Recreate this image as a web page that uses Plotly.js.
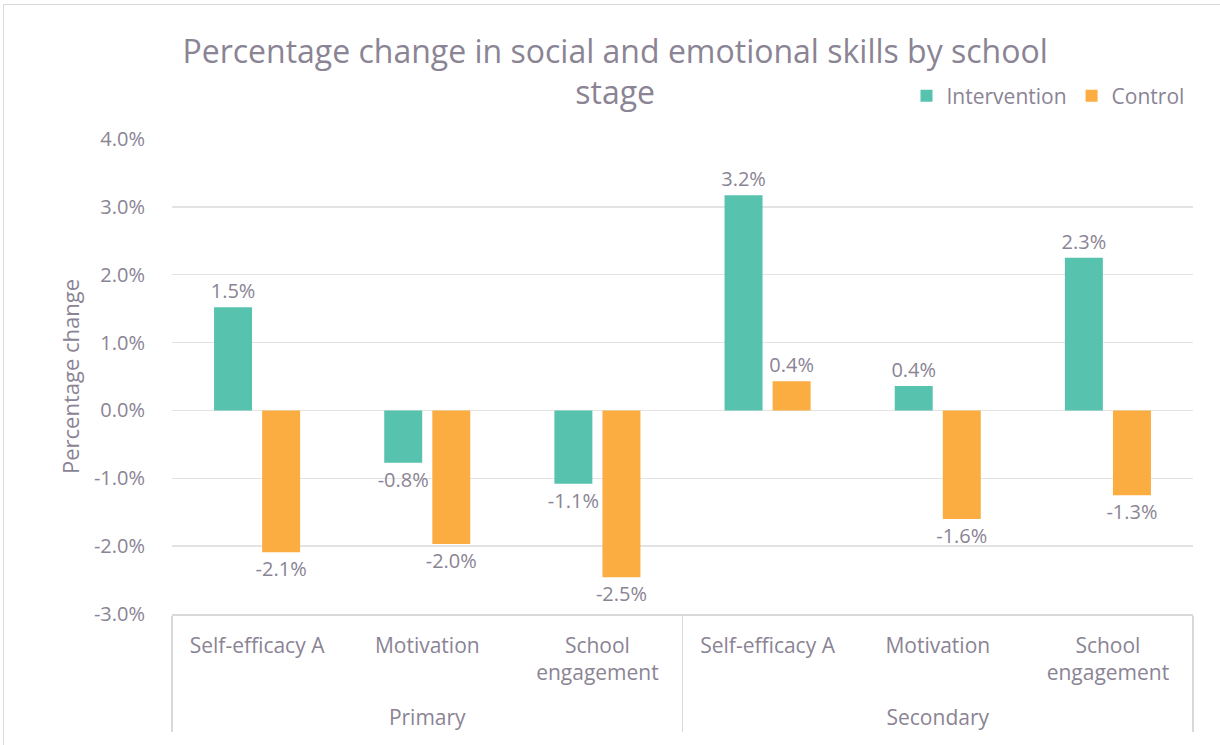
<!DOCTYPE html>
<html>
<head>
<meta charset="utf-8">
<script src="https://cdn.plot.ly/plotly-3.0.1.min.js"></script>
<style>
html,body{margin:0;padding:0;background:#fff;}
#frame{position:absolute;left:3px;top:4px;width:1240px;height:760px;border:1px solid #d9d9d9;box-sizing:border-box;}
#chart{position:absolute;left:0;top:0;width:1220px;height:745px;}
</style>
</head>
<body>
<div id="frame"></div>
<div id="chart"></div>
<script>
const stages = ["Primary","Primary","Primary","Secondary","Secondary","Secondary"];
const skills = ["Self-efficacy A","Motivation","School engagement","Self-efficacy A","Motivation","School engagement"];
const intervention = [1.52, -0.77, -1.08, 3.17, 0.36, 2.25];
const control = [-2.09, -1.97, -2.46, 0.43, -1.60, -1.25];
const yTicks = [-3,-2,-1,0,1,2,3,4];

// display labels: wrap long skill names as in the reference
const skillLabels = skills.map(s => s === "School engagement" ? "School<br>engagement<br>\u00a0" : s);

const textColor = "#8a8494";
const fontFam = "'Open Sans', 'DejaVu Sans', sans-serif";

const mk = (name, vals, color) => ({
  type: "bar",
  name: name,
  x: [stages, skillLabels],
  y: vals,
  marker: {color: color},
  texttemplate: "%{y:.1f}%",
  textposition: "outside",
  constraintext: "none",
  cliponaxis: false,
  textfont: {family: fontFam, size: 20, color: textColor},
  hoverinfo: "skip"
});

const data = [
  mk("Intervention", intervention, "#57c3af"),
  mk("Control", control, "#fbad41")
];

const layout = {
  width: 1220, height: 745,
  margin: {l: 172, r: 27, t: 139, b: 131},
  paper_bgcolor: "rgba(0,0,0,0)",
  plot_bgcolor: "#ffffff",
  font: {family: fontFam, color: textColor, size: 20},
  title: {
    text: "Percentage change in social and emotional skills by school<br>stage",
    font: {family: fontFam, size: 32, color: textColor},
    x: 0.434, xanchor: "center", xref: "paper",
    y: 0.916, yanchor: "middle", yref: "container"
  },
  barmode: "group",
  bargap: 0.435,
  bargroupgap: 0.21,
  showlegend: true,
  legend: {
    orientation: "h",
    x: 0.975, xanchor: "right", xref: "container",
    y: 0.871, yanchor: "middle", yref: "container",
    font: {family: fontFam, size: 21, color: textColor},
    itemwidth: 30,
    bgcolor: "rgba(0,0,0,0)"
  },
  xaxis: {
    type: "multicategory",
    showline: true, linecolor: "#d9d9d9", linewidth: 1.5,
    showgrid: false,
    ticks: "",
    ticklabelstandoff: 12,
    showdividers: true, dividercolor: "#d9d9d9", dividerwidth: 1.5,
    tickfont: {family: fontFam, size: 21, color: textColor},
    fixedrange: true
  },
  yaxis: {
    range: [-3, 4],
    tickvals: yTicks,
    ticktext: yTicks.map(v => v.toFixed(1) + "%"),
    showgrid: true, gridcolor: "#e3e3e3", gridwidth: 1.5,
    zeroline: true, zerolinecolor: "#e3e3e3", zerolinewidth: 1.5,
    showline: false,
    ticks: "outside", ticklen: 22, tickcolor: "rgba(0,0,0,0)",
    tickfont: {family: fontFam, size: 20, color: textColor},
    title: {text: "Percentage change", font: {family: fontFam, size: 22, color: textColor}, standoff: 8},
    fixedrange: true
  }
};

Plotly.newPlot("chart", data, layout, {displayModeBar: false, staticPlot: true});
</script>
</body>
</html>
